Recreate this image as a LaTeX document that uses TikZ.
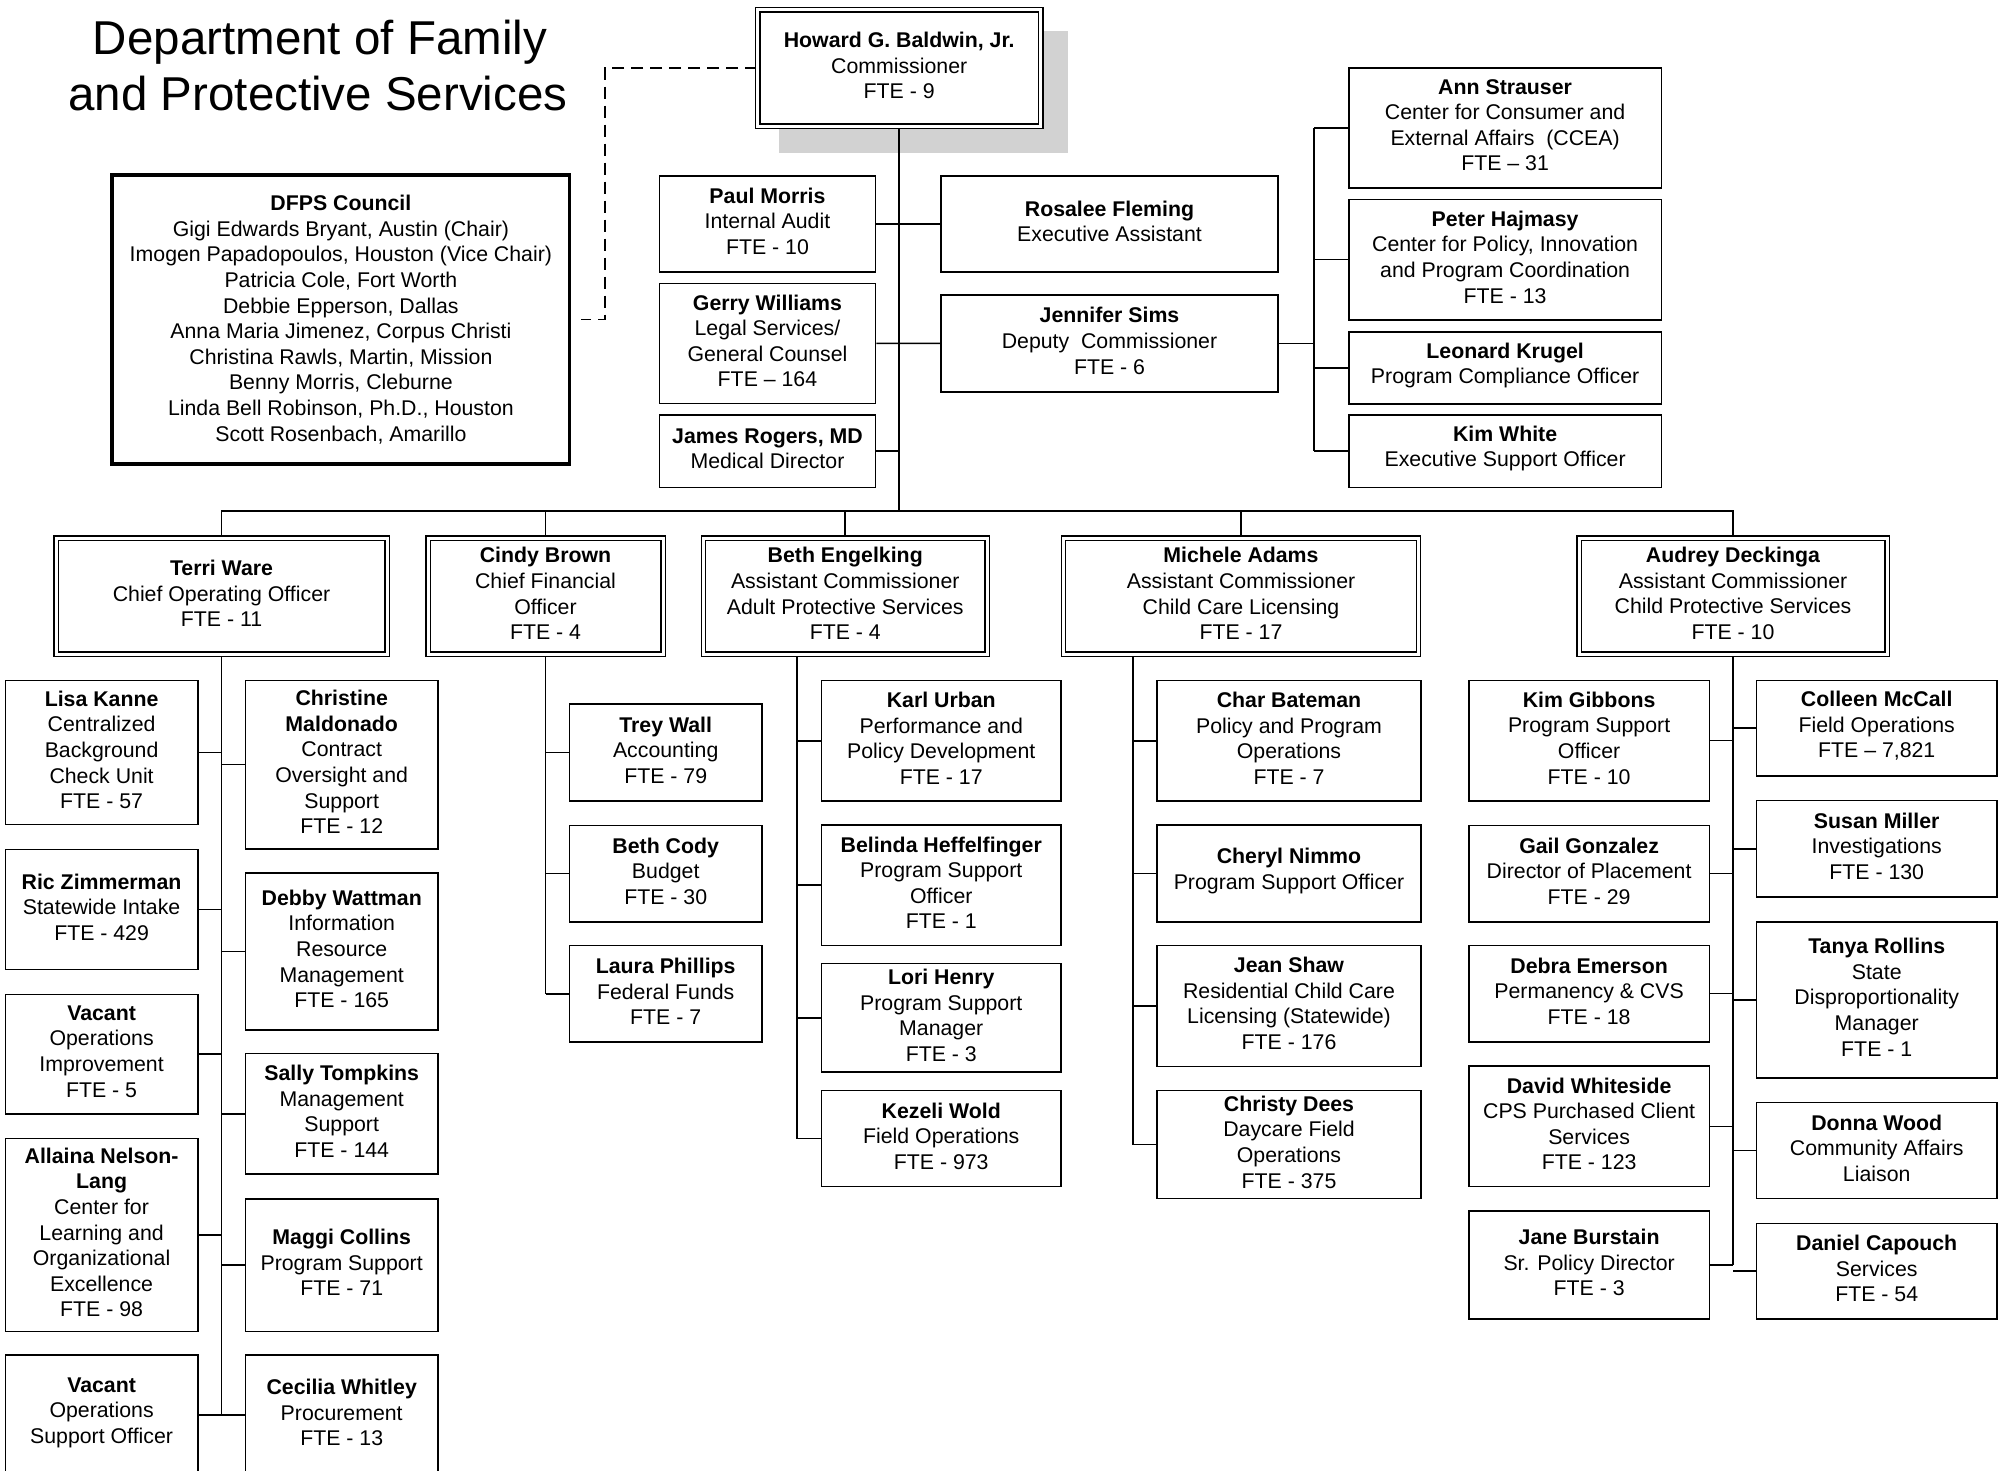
\documentclass[tikz,border=0pt]{standalone}
\usepackage{fontspec}
\setmainfont{Liberation Sans}
\usetikzlibrary{backgrounds}
\tikzset{
  box/.style={draw, line width=1.6pt, fill=white, inner sep=0pt},
  dbox/.style={box, double, double distance=3pt, line width=1.3pt},
  cbox/.style={box, line width=3.5pt},
  txt/.style={inner sep=0pt, align=center, font=\fontsize{21.3}{25.6}\selectfont},
  conn/.style={line width=1.6pt},
  title/.style={font=\fontsize{47.5}{56}\selectfont, inner sep=0pt, anchor=base}
}
\def\tsh{2.5pt}
\newcommand\bx[7][box]{%
  \node[#1,minimum width={(#5)-(#3)},minimum height={(#6)-(#4)}] (#2) at ({((#3)+(#5))/2},{((#4)+(#6))/2}) {};
  \node[txt] (#2-t) at ([yshift=\tsh]#2.center) {#7};}
\begin{document}
\begin{tikzpicture}[x=1pt,y=-1pt]
% title
\node[title] (t1) at (320,54) {Department of Family};
\node[title] (t2) at (318,110) {and Protective Services};
% top
\bx[dbox]{comm}{757.7}{9.8}{1040.7}{126.2}{\textbf{Howard G. Baldwin, Jr.}\\Commissioner\\FTE - 9}
\def\tsh{0pt}
\bx[cbox]{council}{112.2}{175}{569.6}{464}{\textbf{DFPS Council}\\Gigi Edwards Bryant, Austin (Chair)\\Imogen Papadopoulos, Houston (Vice Chair)\\Patricia Cole, Fort Worth\\Debbie Epperson, Dallas\\Anna Maria Jimenez, Corpus Christi\\Christina Rawls, Martin, Mission\\Benny Morris, Cleburne\\Linda Bell Robinson, Ph.D., Houston\\Scott Rosenbach, Amarillo}
\def\tsh{2.5pt}
\bx{paul}{659.4}{175.7}{875.5}{271.7}{\textbf{Paul Morris}\\Internal Audit\\FTE - 10}
\bx{gerry}{659.4}{283.3}{875.5}{403.3}{\textbf{Gerry Williams}\\Legal Services/\\General Counsel\\FTE – 164}
\bx{james}{659.4}{415}{875.5}{487.3}{\textbf{James Rogers, MD}\\Medical Director}
\bx{rosalee}{941}{175.7}{1278}{271.7}{\textbf{Rosalee Fleming}\\Executive Assistant}
\bx{jennifer}{941}{295}{1278}{391.7}{\textbf{Jennifer Sims}\\Deputy\ \ Commissioner\\FTE - 6}
\bx{ann}{1348.7}{67.7}{1661.5}{187.7}{\textbf{Ann Strauser}\\Center for Consumer and\\External Affairs\ \ (CCEA)\\FTE – 31}
\bx{peter}{1348.7}{199.3}{1661.5}{320}{\textbf{Peter Hajmasy}\\Center for Policy, Innovation\\and Program Coordination\\FTE - 13}
\bx{leonard}{1348.7}{331.7}{1661.5}{404}{\textbf{Leonard Krugel}\\Program Compliance Officer}
\bx{kimw}{1348.7}{415}{1661.5}{487.3}{\textbf{Kim White}\\Executive Support Officer}
% level 2
\bx[dbox]{terri}{56}{538}{387}{654}{\textbf{Terri Ware}\\Chief Operating Officer\\FTE - 11}
\bx[dbox]{cindy}{428}{538}{663}{654}{\textbf{Cindy Brown}\\Chief Financial\\Officer\\FTE - 4}
\bx[dbox]{bethe}{703.5}{538}{987}{654}{\textbf{Beth Engelking}\\Assistant Commissioner\\Adult Protective Services\\FTE - 4}
\bx[dbox]{michele}{1063.5}{538}{1418.5}{654}{\textbf{Michele Adams}\\Assistant Commissioner\\Child Care Licensing\\FTE - 17}
\bx[dbox]{audrey}{1579}{538}{1887}{654}{\textbf{Audrey Deckinga}\\Assistant Commissioner\\Child Protective Services\\FTE - 10}
% Terri children
\bx{lisa}{5.4}{680.3}{197.8}{824.6}{\textbf{Lisa Kanne}\\Centralized\\Background\\Check Unit\\FTE - 57}
\bx{ric}{5.4}{849.5}{197.8}{969.5}{\textbf{Ric Zimmerman}\\Statewide Intake\\FTE - 429}
\bx{vac1}{5.4}{994.3}{197.8}{1113.7}{\textbf{Vacant}\\Operations\\Improvement\\FTE - 5}
\bx{allaina}{5.4}{1138.6}{197.8}{1331.3}{\textbf{Allaina Nelson-}\\\textbf{Lang}\\Center for\\Learning and\\Organizational\\Excellence\\FTE - 98}
\bx{vac2}{5.4}{1355}{197.8}{1475}{\textbf{Vacant}\\Operations\\Support Officer}
\bx{christine}{245.5}{680.3}{437.9}{848.8}{\textbf{Christine}\\\textbf{Maldonado}\\Contract\\Oversight and\\Support\\FTE - 12}
\bx{debby}{245.5}{873}{437.9}{1029.8}{\textbf{Debby Wattman}\\Information\\Resource\\Management\\FTE - 165}
\bx{sally}{245.5}{1053.4}{437.9}{1174}{\textbf{Sally Tompkins}\\Management\\Support\\FTE - 144}
\bx{maggi}{245.5}{1198.9}{437.9}{1331.3}{\textbf{Maggi Collins}\\Program Support\\FTE - 71}
\bx{cecilia}{245.5}{1355}{437.9}{1475}{\textbf{Cecilia Whitley}\\Procurement\\FTE - 13}
% Cindy children
\bx{trey}{569.3}{704.2}{762.1}{801.1}{\textbf{Trey Wall}\\Accounting\\FTE - 79}
\bx{bcody}{569.3}{825.3}{762.1}{921.8}{\textbf{Beth Cody}\\Budget\\FTE - 30}
\bx{laura}{569.3}{945.6}{762.1}{1042}{\textbf{Laura Phillips}\\Federal Funds\\FTE - 7}
% Beth children
\bx{karl}{821.3}{680.4}{1061.2}{801.1}{\textbf{Karl Urban}\\Performance and\\Policy Development\\FTE - 17}
\bx{belinda}{821.3}{824.9}{1061.2}{945.6}{\textbf{Belinda Heffelfinger}\\Program Support\\Officer\\FTE - 1}
\bx{lori}{821.3}{963.5}{1061.2}{1072}{\textbf{Lori Henry}\\Program Support\\Manager\\FTE - 3}
\bx{kezeli}{821.3}{1090.5}{1061.2}{1186.5}{\textbf{Kezeli Wold}\\Field Operations\\FTE - 973}
% Michele children
\bx{char}{1157}{680.4}{1421}{801.1}{\textbf{Char Bateman}\\Policy and Program\\Operations\\FTE - 7}
\bx{cheryl}{1157}{824.9}{1421}{921.8}{\textbf{Cheryl Nimmo}\\Program Support Officer}
\bx{jean}{1157}{945.6}{1421}{1066.3}{\textbf{Jean Shaw}\\Residential Child Care\\Licensing (Statewide)\\FTE - 176}
\bx{christy}{1157}{1090.5}{1421}{1198.6}{\textbf{Christy Dees}\\Daycare Field\\Operations\\FTE - 375}
% Audrey children
\bx{kimg}{1468.9}{680.3}{1709.3}{801}{\textbf{Kim Gibbons}\\Program Support\\Officer\\FTE - 10}
\bx{gail}{1468.9}{825.3}{1709.3}{921.7}{\textbf{Gail Gonzalez}\\Director of Placement\\FTE - 29}
\bx{debra}{1468.9}{945.4}{1709.3}{1041.9}{\textbf{Debra Emerson}\\Permanency \& CVS\\FTE - 18}
\bx{david}{1468.9}{1066.2}{1709.3}{1186.4}{\textbf{David Whiteside}\\CPS Purchased Client\\Services\\FTE - 123}
\bx{jane}{1468.9}{1211.2}{1709.3}{1318.7}{\textbf{Jane Burstain}\\Sr. Policy Director\\FTE - 3}
\bx{colleen}{1756.5}{680.3}{1996.9}{776.2}{\textbf{Colleen McCall}\\Field Operations\\FTE – 7,821}
\bx{susan}{1756.5}{800.5}{1996.9}{897}{\textbf{Susan Miller}\\Investigations\\FTE - 130}
\bx{tanya}{1756.5}{921.7}{1996.9}{1077.8}{\textbf{Tanya Rollins}\\State\\Disproportionality\\Manager\\FTE - 1}
\bx{donna}{1756.5}{1102.6}{1996.9}{1198.5}{\textbf{Donna Wood}\\Community Affairs\\Liaison}
\bx{daniel}{1756.5}{1223.3}{1996.9}{1318.7}{\textbf{Daniel Capouch}\\Services\\FTE - 54}
% connectors
\begin{pgfonlayer}{background}
\fill[white] (0,0) rectangle (2007,1470);
\fill[gray!35] (778.7,31) rectangle (1067.7,152.7);
\coordinate (bus) at (898.6,511);
\coordinate (dk) at (604.7,200);
\coordinate (rs) at (1314,300);
\coordinate (bes) at (797.2,654);
\coordinate (ms) at (1132.9,654);
\draw[conn, dash pattern=on 12pt off 7pt, shorten >=10pt] (comm.west) -| (dk) |- (council.east);
\draw[conn] (comm.south) -- (comm.south |- bus);
\draw[conn] (terri.north) -- (terri.north |- bus) -- (audrey.north |- bus) -- (audrey.north);
\foreach \n in {cindy,bethe,michele} \draw[conn] (\n.north) -- (\n.north |- bus);
\draw[conn] (paul.east) -- (rosalee.west);
\draw[conn] (gerry.east) -- (jennifer.west);
\draw[conn] (james.east) -- (james.east -| comm.south);
\draw[conn] (ann.west -| rs) -- (kimw.west -| rs);
\foreach \n in {ann,peter,leonard,kimw} \draw[conn] (\n.west) -- (\n.west -| rs);
\draw[conn] (jennifer.east) -- (jennifer.east -| rs);
% Terri
\draw[conn] (terri.south) -- (vac2.east -| terri.south);
\foreach \n in {lisa,ric,vac1,allaina,vac2} \draw[conn] (\n.east) -- (\n.east -| terri.south);
\foreach \n in {christine,debby,sally,maggi,cecilia} \draw[conn] (\n.west) -- (\n.west -| terri.south);
% Cindy
\draw[conn] (cindy.south) -- (laura.west -| cindy.south);
\foreach \n in {trey,bcody,laura} \draw[conn] (\n.west) -- (\n.west -| cindy.south);
% Beth
\draw[conn] (bes) -- (kezeli.west -| bes);
\foreach \n in {karl,belinda,lori,kezeli} \draw[conn] (\n.west) -- (\n.west -| bes);
% Michele
\draw[conn] (ms) -- (christy.west -| ms);
\foreach \n in {char,cheryl,jean,christy} \draw[conn] (\n.west) -- (\n.west -| ms);
% Audrey
\draw[conn] (audrey.south) -- (jane.east -| audrey.south);
\foreach \n in {kimg,gail,debra,david,jane} \draw[conn] (\n.east) -- (\n.east -| audrey.south);
\foreach \n in {colleen,susan,tanya,donna,daniel} \draw[conn] (\n.west) -- (\n.west -| audrey.south);
\end{pgfonlayer}
\pgfresetboundingbox
\useasboundingbox (0,0) rectangle (2007,1470);
\end{tikzpicture}
\end{document}
